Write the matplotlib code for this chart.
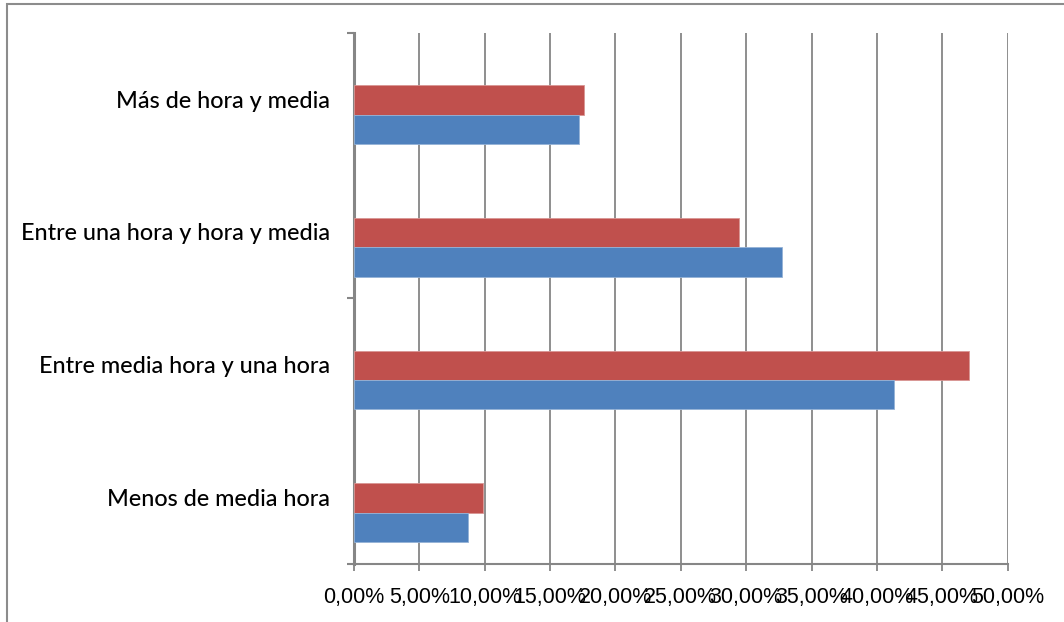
import matplotlib
matplotlib.use('Agg')
import matplotlib.pyplot as plt
from matplotlib.patches import Rectangle
from matplotlib.ticker import FuncFormatter

categorias = ['Menos de media hora', 'Entre media hora y una hora',
              'Entre una hora y hora y media', 'Más de hora y media']
serie_roja = [9.89, 47.06, 29.46, 17.62]
serie_azul = [8.69, 41.34, 32.73, 17.24]
ticks_x = [0, 5, 10, 15, 20, 25, 30, 35, 40, 45, 50]

gris = '#868686'
rojo = '#C0504D'
azul = '#4F81BD'

fig = plt.figure(figsize=(10.64, 6.22), dpi=100)
ax = fig.add_axes([354 / 1064, 1 - 563.5 / 622, (1007.7 - 354) / 1064, (563.5 - 33) / 622])

y = list(range(len(categorias)))
alto = 0.222
ax.barh([v - 0.005 for v in y], serie_roja, height=alto, color=rojo,
        edgecolor='#D99694', linewidth=0.6, zorder=3)
ax.barh([v - 0.005 - alto for v in y], serie_azul, height=alto, color=azul,
        edgecolor='#95B3D7', linewidth=0.6, zorder=3)

ax.set_xlim(0, 50)
ax.set_ylim(-0.5, 3.5)
ax.set_xticks(ticks_x)
ax.xaxis.set_major_formatter(FuncFormatter(lambda v, p: f'{v:.2f}%'.replace('.', ',')))
ax.grid(axis='x', color=gris, linewidth=1.3, zorder=0)

ax.set_yticks(y)
ax.set_yticklabels(categorias)
ax.set_yticks([-0.5, 1.5, 3.5], minor=True)
ax.tick_params(axis='y', which='major', length=0, pad=17)
ax.tick_params(axis='y', which='minor', length=5, width=1.5, color=gris)
ax.tick_params(axis='x', length=5, width=1.3, color=gris, pad=12)

for lab in ax.get_yticklabels():
    lab.set_fontfamily(['Lato', 'DejaVu Sans'])
    lab.set_fontsize(16.8)
    lab.set_fontweight('medium')
for lab in ax.get_xticklabels():
    lab.set_fontfamily(['Liberation Sans', 'DejaVu Sans'])
    lab.set_fontsize(15.5)

for s in ['top', 'right']:
    ax.spines[s].set_visible(False)
ax.spines['left'].set_color(gris)
ax.spines['left'].set_linewidth(2.2)
ax.spines['bottom'].set_color(gris)
ax.spines['bottom'].set_linewidth(1.5)

# marco del grafico
fig.patches.append(Rectangle((7 / 1064, -0.1), 1.2, 1 - 4 / 622 + 0.1,
                             transform=fig.transFigure, fill=False,
                             edgecolor='#8C8C8C', linewidth=1.5))

fig.savefig('out.png', dpi=100)
